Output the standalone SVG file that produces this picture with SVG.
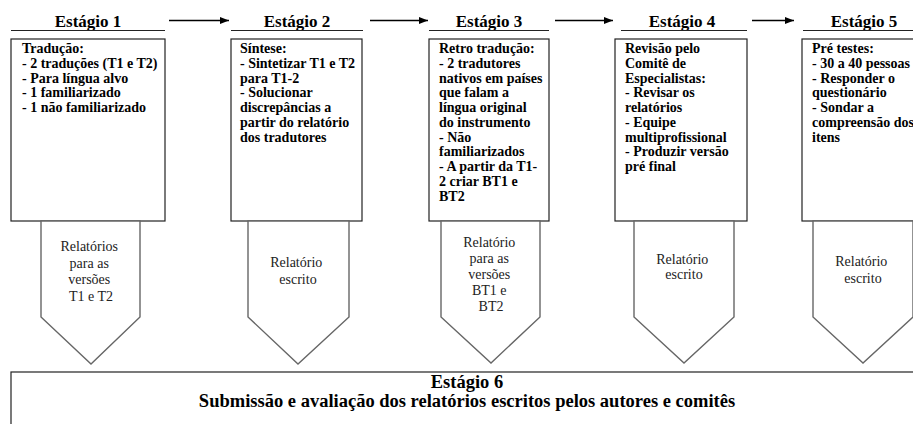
<svg xmlns="http://www.w3.org/2000/svg" width="913" height="424" viewBox="0 0 913 424">
<style>
text{font-family:"Liberation Serif","Times New Roman",serif}
.hd{font-weight:bold;font-size:17px;fill:#000;text-anchor:middle}
.bx{fill:#fff;stroke:#222;stroke-width:1.2}
.ul{stroke:#222;stroke-width:1.2}
.bt{font-weight:bold;font-size:14px;fill:#000}
.pg{fill:#fff;stroke:#666;stroke-width:1.4}
.pt{font-size:14px;fill:#222;text-anchor:middle}
.ar{stroke:#000;stroke-width:1.6;fill:none}
.s6{font-weight:bold;font-size:18.5px;fill:#000;text-anchor:middle}
</style>
<defs>
<marker id="ah" markerWidth="10" markerHeight="8" refX="9" refY="4" orient="auto" markerUnits="userSpaceOnUse">
<path d="M0,0.5 L9,4 L0,7.5 Z" fill="#000"/>
</marker>
</defs>
<g id="connectors">
<line class="ar" x1="169" y1="20.5" x2="229" y2="20.5" marker-end="url(#ah)"/>
<line class="ar" x1="370" y1="20.5" x2="428" y2="20.5" marker-end="url(#ah)"/>
<line class="ar" x1="555" y1="20.5" x2="613" y2="20.5" marker-end="url(#ah)"/>
<line class="ar" x1="752" y1="20.5" x2="794" y2="20.5" marker-end="url(#ah)"/>
</g>
<g id="stage1">
<text class="hd" x="88" y="26.5">Estágio 1</text>
<line class="ul" x1="11" y1="30.5" x2="165" y2="30.5"/>
<rect class="bx" x="11" y="39" width="154" height="182"/>
<text class="bt" x="22" y="53">
<tspan x="22">Tradução:</tspan>
<tspan x="22" dy="14.75">- 2 traduções (T1 e T2)</tspan>
<tspan x="22" dy="14.75">- Para língua alvo</tspan>
<tspan x="22" dy="14.75">- 1 familiarizado</tspan>
<tspan x="22" dy="14.75">- 1 não familiarizado</tspan>
</text>
<path class="pg" d="M41,221 L140,221 L140,317 L91,364 L41,317 Z"/>
<text class="pt" x="91" y="251">
<tspan x="91">Relatórios</tspan>
<tspan x="91" dy="16.5">para as</tspan>
<tspan x="91" dy="16.5">versões</tspan>
<tspan x="91" dy="16.5">T1 e T2</tspan>
</text>
</g>
<g id="stage2">
<text class="hd" x="297" y="26.5">Estágio 2</text>
<line class="ul" x1="231" y1="30.5" x2="363" y2="30.5"/>
<rect class="bx" x="231" y="39" width="131" height="182"/>
<text class="bt" x="240" y="53">
<tspan x="240">Síntese:</tspan>
<tspan x="240" dy="14.75">- Sintetizar T1 e T2</tspan>
<tspan x="240" dy="14.75">para T1-2</tspan>
<tspan x="240" dy="14.75">- Solucionar</tspan>
<tspan x="240" dy="14.75">discrepâncias a</tspan>
<tspan x="240" dy="14.75">partir do relatório</tspan>
<tspan x="240" dy="14.75">dos tradutores</tspan>
</text>
<path class="pg" d="M248,221 L349,221 L349,317 L298,364 L248,317 Z"/>
<text class="pt" x="298" y="267">
<tspan x="298">Relatório</tspan>
<tspan x="298" dy="16.5">escrito</tspan>
</text>
</g>
<g id="stage3">
<text class="hd" x="489" y="26.5">Estágio 3</text>
<line class="ul" x1="429" y1="30.5" x2="549" y2="30.5"/>
<rect class="bx" x="429" y="39" width="120" height="182"/>
<text class="bt" x="439" y="53">
<tspan x="439">Retro tradução:</tspan>
<tspan x="439" dy="14.75">- 2 tradutores</tspan>
<tspan x="439" dy="14.75">nativos em países</tspan>
<tspan x="439" dy="14.75">que falam a</tspan>
<tspan x="439" dy="14.75">língua original</tspan>
<tspan x="439" dy="14.75">do instrumento</tspan>
<tspan x="439" dy="14.75">- Não</tspan>
<tspan x="439" dy="14.75">familiarizados</tspan>
<tspan x="439" dy="14.75">- A partir da T1-</tspan>
<tspan x="439" dy="14.75">2 criar BT1 e</tspan>
<tspan x="439" dy="14.75">BT2</tspan>
</text>
<path class="pg" d="M441,221 L540,221 L540,317 L491,363 L441,317 Z"/>
<text class="pt" x="491" y="247">
<tspan x="491">Relatório</tspan>
<tspan x="491" dy="15.9">para as</tspan>
<tspan x="491" dy="15.9">versões</tspan>
<tspan x="491" dy="15.9">BT1 e</tspan>
<tspan x="491" dy="15.9">BT2</tspan>
</text>
</g>
<g id="stage4">
<text class="hd" x="682" y="26.5">Estágio 4</text>
<line class="ul" x1="621" y1="30.5" x2="747" y2="30.5"/>
<rect class="bx" x="615" y="39" width="132" height="182"/>
<text class="bt" x="625" y="53">
<tspan x="625">Revisão pelo</tspan>
<tspan x="625" dy="14.75">Comitê de</tspan>
<tspan x="625" dy="14.75">Especialistas:</tspan>
<tspan x="625" dy="14.75">- Revisar os</tspan>
<tspan x="625" dy="14.75">relatórios</tspan>
<tspan x="625" dy="14.75">- Equipe</tspan>
<tspan x="625" dy="14.75">multiprofissional</tspan>
<tspan x="625" dy="14.75">- Produzir versão</tspan>
<tspan x="625" dy="14.75">pré final</tspan>
</text>
<path class="pg" d="M634,221 L734,221 L734,317 L684,363 L634,317 Z"/>
<text class="pt" x="684" y="264">
<tspan x="684">Relatório</tspan>
<tspan x="684" dy="15">escrito</tspan>
</text>
</g>
<g id="stage5">
<text class="hd" x="864" y="26.5">Estágio 5</text>
<line class="ul" x1="803" y1="30.5" x2="913" y2="30.5"/>
<rect class="bx" x="802" y="39" width="130" height="182"/>
<text class="bt" x="812" y="53">
<tspan x="812">Pré testes:</tspan>
<tspan x="812" dy="14.75">- 30 a 40 pessoas</tspan>
<tspan x="812" dy="14.75">- Responder o</tspan>
<tspan x="812" dy="14.75">questionário</tspan>
<tspan x="812" dy="14.75">- Sondar a</tspan>
<tspan x="812" dy="14.75">compreensão dos</tspan>
<tspan x="812" dy="14.75">itens</tspan>
</text>
<path class="pg" d="M813,221 L913,221 L913,317 L863,363 L813,317 Z"/>
<text class="pt" x="863" y="266">
<tspan x="863">Relatório</tspan>
<tspan x="863" dy="16.5">escrito</tspan>
</text>
</g>
<g id="stage6">
<rect class="bx" x="11" y="372" width="930" height="80"/>
<text class="s6" x="467" y="387.5">Estágio 6</text>
<text class="s6" x="467" y="407">Submissão e avaliação dos relatórios escritos pelos autores e comitês</text>
</g>
</svg>
